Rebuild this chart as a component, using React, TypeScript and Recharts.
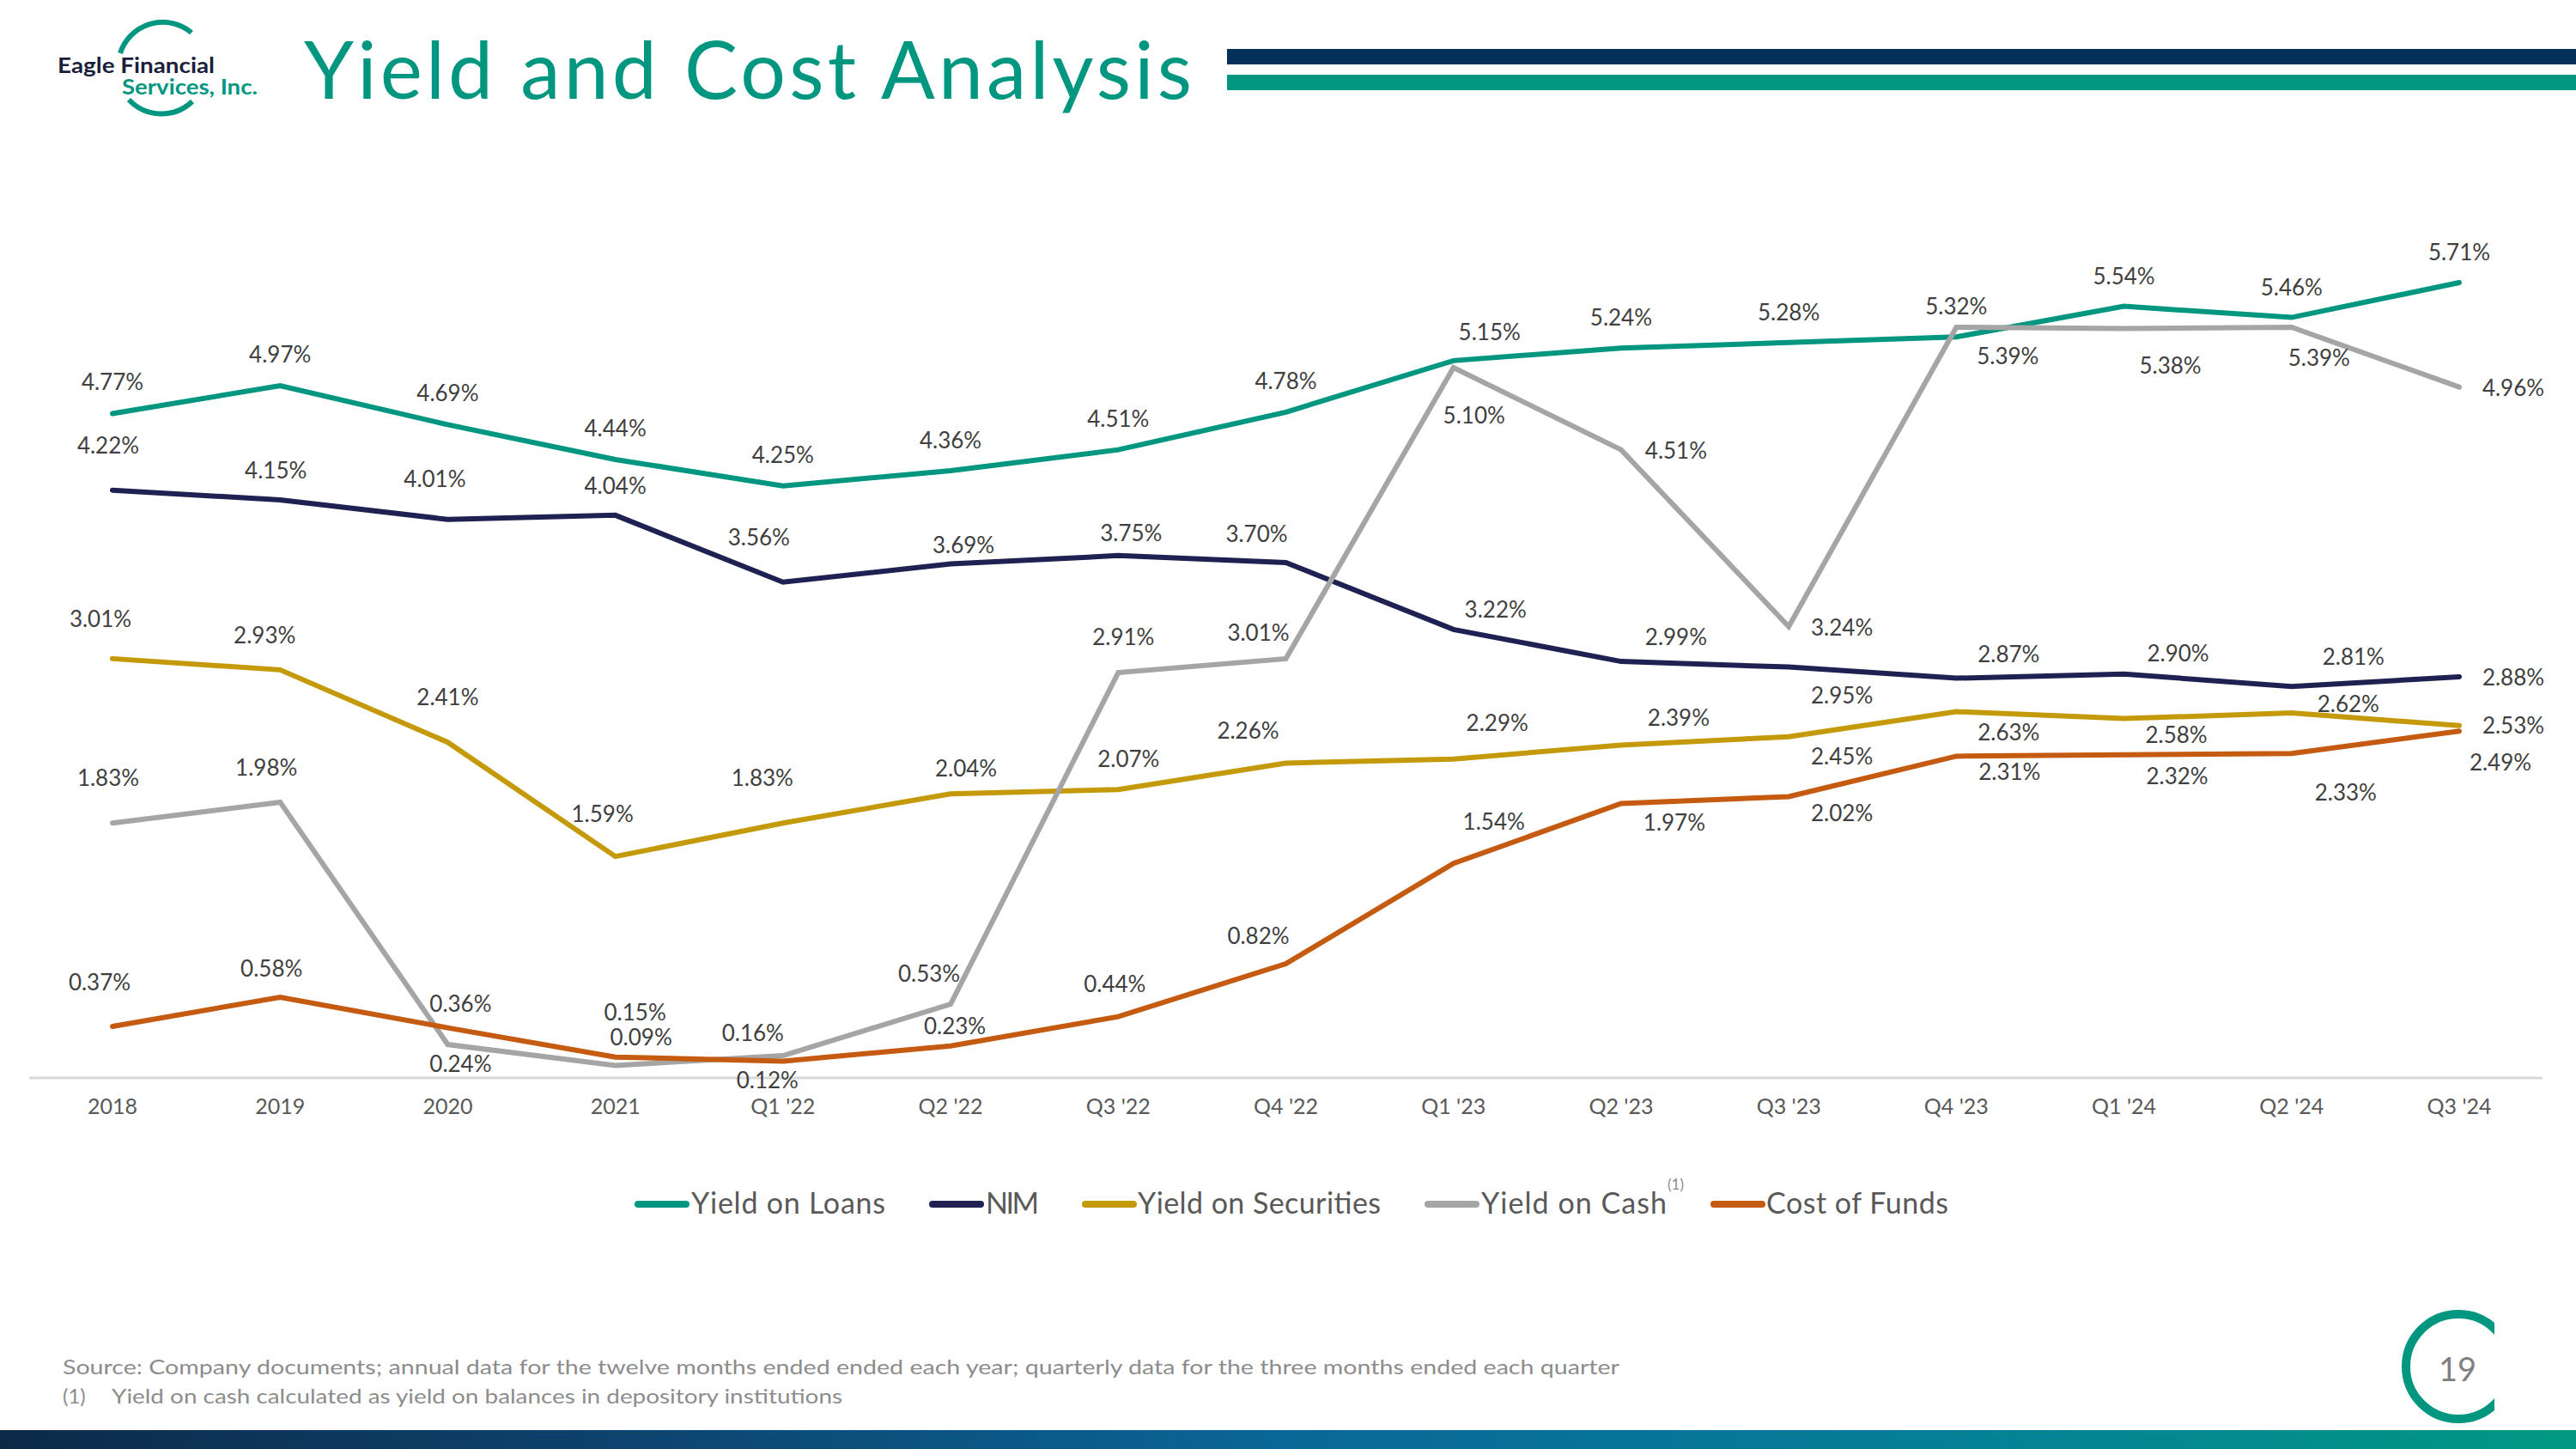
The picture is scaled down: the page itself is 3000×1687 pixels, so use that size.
import { LabelList, Line, LineChart, XAxis, YAxis } from 'recharts'

const CATEGORIES = ['2018', '2019', '2020', '2021', "Q1 '22", "Q2 '22", "Q3 '22", "Q4 '22", "Q1 '23", "Q2 '23", "Q3 '23", "Q4 '23", "Q1 '24", "Q2 '24", "Q3 '24"]
const YIELD_ON_LOANS = [4.77, 4.97, 4.69, 4.44, 4.25, 4.36, 4.51, 4.78, 5.15, 5.24, 5.28, 5.32, 5.54, 5.46, 5.71]
const NIM = [4.22, 4.15, 4.01, 4.04, 3.56, 3.69, 3.75, 3.7, 3.22, 2.99, 2.95, 2.87, 2.9, 2.81, 2.88]
const YIELD_ON_SECURITIES = [3.01, 2.93, 2.41, 1.59, 1.83, 2.04, 2.07, 2.26, 2.29, 2.39, 2.45, 2.63, 2.58, 2.62, 2.53]
const YIELD_ON_CASH = [1.83, 1.98, 0.24, 0.09, 0.16, 0.53, 2.91, 3.01, 5.1, 4.51, 3.24, 5.39, 5.38, 5.39, 4.96]
const COST_OF_FUNDS = [0.37, 0.58, 0.36, 0.15, 0.12, 0.23, 0.44, 0.82, 1.54, 1.97, 2.02, 2.31, 2.32, 2.33, 2.49]

// where each data label sits relative to its point (dx, dy)
const LOANS_LABEL_POS = [[0, -37], [0, -37], [0, -37], [0, -37], [0, -37], [0, -36], [0, -37], [0, -37], [42, -34], [0, -36], [0, -36], [0, -36], [0, -36], [0, -36], [0, -36]]
const NIM_LABEL_POS = [[-5, -53], [-5, -35], [-15, -48], [0, -35], [-28, -53], [15, -23], [15, -27], [-34, -34], [49, -24], [64, -29], [62, 32], [61, -29], [63, -25], [72, -35], [63, 0]]
const SECURITIES_LABEL_POS = [[-14, -47], [-18, -41], [0, -53], [-15, -50], [-24, -53], [18, -30], [12, -36], [-44, -39], [51, -43], [67, -32], [62, 22], [61, 23], [61, 18], [66, -11], [63, -1]]
const CASH_LABEL_POS = [[-5, -53], [-16, -41], [15, 22], [30, -33], [-35, -27], [-25, -36], [6, -42], [-32, -31], [24, 55], [64, 0], [62, 0], [60, 33], [54, 42], [32, 35], [63, 0]]
const COST_LABEL_POS = [[-15, -52], [-10, -34], [15, -29], [23, -53], [-18, 21], [5, -24], [-4, -39], [-32, -33], [47, -49], [62, 21], [62, 19], [62, 18], [62, 24], [63, 45], [48, 36]]

const TEAL = '#009680'
const NAVY = '#1F2152'
const GOLD = '#C49A0B'
const GRAY = '#A5A5A5'
const ORANGE = '#C55A11'
const FONT = 'Lato, sans-serif'

const SERIES = [
  { key: 'loans', name: 'Yield on Loans', values: YIELD_ON_LOANS, color: TEAL, labels: LOANS_LABEL_POS },
  { key: 'nim', name: 'NIM', values: NIM, color: NAVY, labels: NIM_LABEL_POS },
  { key: 'securities', name: 'Yield on Securities', values: YIELD_ON_SECURITIES, color: GOLD, labels: SECURITIES_LABEL_POS },
  { key: 'cash', name: 'Yield on Cash', values: YIELD_ON_CASH, color: GRAY, labels: CASH_LABEL_POS },
  { key: 'cost', name: 'Cost of Funds', values: COST_OF_FUNDS, color: ORANGE, labels: COST_LABEL_POS },
]

// legend layout: sample line start, text start, text width
const LEGEND_LAYOUT = [
  [739, 805, 226],
  [1082, 1148, 62],
  [1260, 1325, 283],
  [1659, 1725, 216],
  [1992, 2057, 212],
]

const chartData = CATEGORIES.map((name, i) => {
  const row: Record<string, string | number> = { name }
  SERIES.forEach((s) => {
    row[s.key] = s.values[i]
  })
  return row
})

function makeLabel(offsets: number[][]) {
  return (props: any) => {
    const { x, y, value, index } = props
    const [dx, dy] = offsets[index] ?? [0, -36]
    return (
      <text
        x={Number(x) + dx}
        y={Number(y) + dy}
        textAnchor="middle"
        dominantBaseline="central"
        fontSize={26}
        fontFamily={FONT}
        fill="#404040"
      >
        {`${Number(value).toFixed(2)}%`}
      </text>
    )
  }
}

function Decorations() {
  return (
    <svg
      width={3000}
      height={1687}
      style={{ position: 'absolute', left: 0, top: 0, pointerEvents: 'none' }}
    >
      <defs>
        <linearGradient id="footerBar" x1="0" x2="1" y1="0" y2="0">
          <stop offset="0%" stopColor="#0c2a48" />
          <stop offset="25%" stopColor="#0d4470" />
          <stop offset="50%" stopColor="#0a6797" />
          <stop offset="75%" stopColor="#057f98" />
          <stop offset="100%" stopColor="#009882" />
        </linearGradient>
        <clipPath id="pageArc">
          <rect x={2780} y={1500} width={125} height={180} />
        </clipPath>
      </defs>

      {/* logo */}
      <path d="M 223 38 A 52 52 0 0 0 140 62" fill="none" stroke={TEAL} strokeWidth={6} />
      <path d="M 150 116 A 52 52 0 0 0 224 118" fill="none" stroke={TEAL} strokeWidth={6} />
      <text x={67} y={85} fontSize={25} fontWeight={700} fontFamily={FONT} fill="#1B1F3B" textLength={183} lengthAdjust="spacingAndGlyphs">
        Eagle Financial
      </text>
      <text x={142} y={110} fontSize={25} fontWeight={700} fontFamily={FONT} fill={TEAL} textLength={158} lengthAdjust="spacingAndGlyphs">
        Services, Inc.
      </text>

      {/* title */}
      <text x={354} y={115} fontSize={93} fontFamily={FONT} fill={TEAL} textLength={1034} lengthAdjust="spacing">
        Yield and Cost Analysis
      </text>
      <rect x={1429} y={57} width={1571} height={18} fill="#03305A" />
      <rect x={1429} y={87} width={1571} height={18} fill={TEAL} />

      {/* legend */}
      {SERIES.map((s, i) => {
        const [lx, tx, tw] = LEGEND_LAYOUT[i]
        return (
          <g key={s.key}>
            <line x1={lx + 4} x2={lx + 60} y1={1402} y2={1402} stroke={s.color} strokeWidth={8} strokeLinecap="round" />
            <text x={tx} y={1413} fontSize={34} fontFamily={FONT} fill="#595959" textLength={tw} lengthAdjust="spacing">
              {s.name}
            </text>
          </g>
        )
      })}
      <text x={1942} y={1385} fontSize={17} fontFamily={FONT} fill="#8C8C8C">
        (1)
      </text>

      {/* footnotes */}
      <text x={73} y={1600} fontSize={24} fontFamily={FONT} fill="#8C8C8C" textLength={1813} lengthAdjust="spacingAndGlyphs">
        Source: Company documents; annual data for the twelve months ended ended each year; quarterly data for the three months ended each quarter
      </text>
      <text x={73} y={1634} fontSize={24} fontFamily={FONT} fill="#8C8C8C">
        (1)
      </text>
      <text x={130} y={1634} fontSize={24} fontFamily={FONT} fill="#8C8C8C" textLength={851} lengthAdjust="spacingAndGlyphs">
        Yield on cash calculated as yield on balances in depository institutions
      </text>

      {/* page number */}
      <circle cx={2863} cy={1591} r={61} fill="none" stroke={TEAL} strokeWidth={10} clipPath="url(#pageArc)" />
      <text x={2862} y={1608} fontSize={38} fontFamily={FONT} fill="#808080" textAnchor="middle">
        19
      </text>

      <rect x={0} y={1665} width={3000} height={22} fill="url(#footerBar)" />
    </svg>
  )
}

export default function App() {
  return (
    <div style={{ position: 'absolute', left: 0, top: 0, width: 3000, height: 1687, background: '#ffffff', overflow: 'hidden' }}>
      <LineChart
        width={3000}
        height={1687}
        data={chartData}
        margin={{ top: 282, right: 39, bottom: 372, left: 34 }}
      >
        <XAxis
          dataKey="name"
          interval={0}
          height={60}
          padding={{ left: 97, right: 97 }}
          tickLine={false}
          tickMargin={18}
          axisLine={{ stroke: '#D9D9D9', strokeWidth: 3 }}
          tick={{ fill: '#595959', fontSize: 25, fontFamily: FONT }}
        />
        <YAxis hide domain={[0, 6]} type="number" />
        {SERIES.map((s) => (
          <Line
            key={s.key}
            type="linear"
            dataKey={s.key}
            name={s.name}
            stroke={s.color}
            strokeWidth={6}
            strokeLinecap="round"
            dot={false}
            activeDot={false}
            isAnimationActive={false}
          >
            <LabelList dataKey={s.key} content={makeLabel(s.labels)} />
          </Line>
        ))}
      </LineChart>
      <Decorations />
    </div>
  )
}
